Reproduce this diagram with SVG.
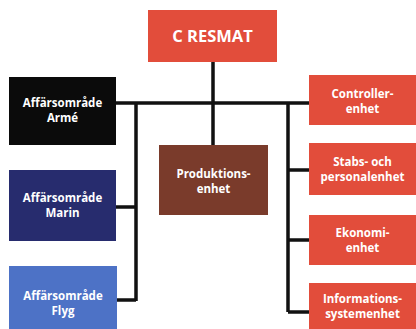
<svg xmlns="http://www.w3.org/2000/svg" width="416" height="329" viewBox="0 0 416 329">
<style>
text{font-family:"Open Sans","DejaVu Sans",sans-serif;font-weight:bold;fill:#fff;text-anchor:middle;font-size:11.5px}
.ln{stroke:#111;stroke-width:3.5;fill:none}
.red{fill:#e24d3b}
</style>
<rect width="416" height="329" fill="#fff"/>
<g id="connectors">
<path class="ln" d="M213,62V146M116,103H309M136,103V301M116,207H136M117,300H136M288,103V312M288,170H309M288,240H309M288,312H309"/>
</g>
<g id="cresmat"><rect class="red" x="148" y="10" width="129" height="52"/><text x="212.5" y="42" style="font-size:16.5px">C RESMAT</text></g>
<g id="arme"><rect fill="#0b0b0b" x="9" y="77" width="107" height="68"/><text x="62.5" y="107">Affärsområde</text><text x="62.5" y="122">Armé</text></g>
<g id="marin"><rect fill="#272c6e" x="9" y="170" width="107" height="71"/><text x="62.5" y="202">Affärsområde</text><text x="62.5" y="217">Marin</text></g>
<g id="flyg"><rect fill="#4d72c6" x="9" y="266" width="108" height="63"/><text x="63" y="300">Affärsområde</text><text x="63" y="315">Flyg</text></g>
<g id="produktion"><rect fill="#7a3b2b" x="159" y="145" width="109" height="70"/><text x="213.5" y="178">Produktions-</text><text x="213.5" y="193">enhet</text></g>
<g id="controller"><rect class="red" x="309" y="75" width="107" height="50"/><text x="362.5" y="98">Controller-</text><text x="362.5" y="113">enhet</text></g>
<g id="stabs"><rect class="red" x="309" y="143" width="107" height="52"/><text x="362.5" y="166">Stabs- och</text><text x="362.5" y="181">personalenhet</text></g>
<g id="ekonomi"><rect class="red" x="309" y="215" width="107" height="50"/><text x="362.5" y="237">Ekonomi-</text><text x="362.5" y="252">enhet</text></g>
<g id="info"><rect class="red" x="309" y="283" width="107" height="46"/><text x="362.5" y="303">Informations-</text><text x="362.5" y="318">systemenhet</text></g>
</svg>
